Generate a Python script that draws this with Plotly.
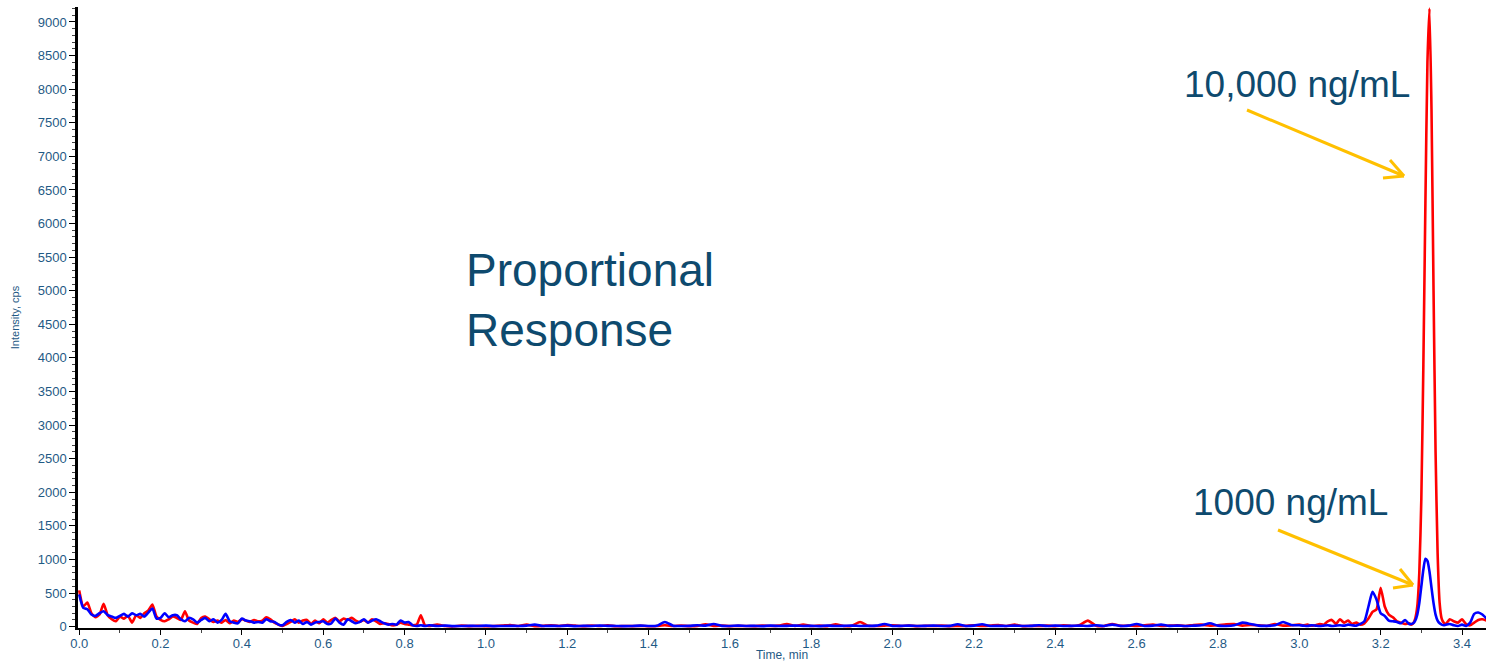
import numpy as np
import plotly.graph_objects as go

# ---- sampling times (min) for each stretch of the run ----
t_early = np.round(np.arange(0.00, 0.851, 0.01), 3)
t_mid = np.round(np.arange(0.86, 3.001, 0.02), 3)
t_pre = np.round(np.arange(3.01, 3.271, 0.01), 3)
t_peak = np.round(np.arange(3.275, 3.3601, 0.005), 3)
t_tail = np.round(np.arange(3.37, 3.461, 0.01), 3)

# ---- 10,000 ng/mL trace (cps) ----
red_early = [540, 300, 360, 200, 140, 180, 340, 170, 110, 80,
             150, 120, 160, 60, 170, 130, 200, 240, 330, 150,
             100, 80, 110, 150, 130, 100, 230, 90, 60, 40,
             130, 150, 110, 70, 90, 60, 100, 50, 90, 70,
             110, 90, 70, 100, 80, 90, 140, 110, 60, 30,
             10, 40, 70, 110, 60, 90, 100, 40, 90, 50,
             110, 60, 100, 130, 80, 120, 100, 130, 90, 70,
             100, 60, 110, 80, 40, 50, 40, 20, 30, 60,
             40, 30, 20, 30, 170, 20]
red_mid = [10, 30, 10, 5, 15, 8, 12, 5, 10, 15,
           25, 10, 30, 8, 12, 20, 10, 25, 15, 8,
           15, 10, 20, 5, 10, 8, 12, 5, 10, 20,
           10, 15, 8, 12, 35, 10, 15, 8, 12, 10,
           8, 15, 10, 15, 40, 12, 30, 10, 15, 8,
           35, 10, 15, 70, 12, 10, 15, 20, 10, 15,
           8, 12, 10, 15, 8, 10, 12, 20, 10, 15,
           25, 10, 30, 8, 12, 10, 15, 8, 20, 10,
           25, 90, 15, 10, 40, 12, 15, 10, 20, 30,
           10, 15, 20, 10, 25, 30, 15, 20, 35, 40,
           15, 25, 20, 10, 40, 15, 20, 30]
red_pre = [20, 30, 15, 20, 40, 30, 80, 100, 40, 110,
           60, 90, 40, 60, 30, 50, 120, 220, 260, 580,
           300, 180, 140, 80, 60, 40, 50]
red_peak = [30, 50, 120, 300, 800, 1900, 3900, 6300, 8400,
            9200, 7700, 5000, 2600, 1100, 350, 120, 60, 40]
red_tail = [110, 80, 60, 110, 40, 20, 60, 100, 110, 90]

# ---- 1000 ng/mL trace (cps) ----
blue_early = [480, 280, 260, 180, 160, 200, 230, 170, 150, 130,
              160, 190, 150, 200, 170, 190, 150, 210, 270, 120,
              130, 200, 140, 170, 170, 110, 80, 130, 110, 60,
              100, 130, 80, 110, 60, 100, 190, 80, 60, 50,
              120, 90, 80, 60, 70, 60, 110, 80, 70, 30,
              20, 70, 100, 60, 90, 40, 70, 30, 60, 70,
              80, 40, 50, 120, 60, 30, 110, 80, 50, 70,
              110, 60, 90, 110, 80, 50, 30, 40, 30, 90,
              60, 70, 20, 10, 20, 10]
blue_mid = [20, 10, 15, 8, 10, 12, 10, 15, 8, 10,
            12, 10, 15, 30, 10, 12, 10, 15, 8, 12,
            10, 15, 12, 10, 8, 10, 15, 10, 12, 70,
            15, 10, 12, 20, 15, 40, 12, 10, 15, 10,
            12, 8, 15, 10, 12, 15, 10, 12, 8, 15,
            10, 12, 15, 10, 12, 15, 40, 10, 12, 15,
            10, 12, 15, 10, 12, 35, 10, 15, 35, 10,
            12, 10, 15, 10, 12, 20, 10, 15, 10, 12,
            15, 10, 20, 10, 30, 12, 15, 40, 10, 15,
            30, 12, 15, 10, 15, 20, 50, 15, 10, 20,
            60, 40, 15, 12, 20, 70, 25, 20]
blue_pre = [15, 10, 20, 15, 10, 15, 20, 10, 15, 20,
            15, 30, 20, 15, 40, 80, 300, 520, 400, 200,
            160, 90, 80, 70, 50, 100, 40]
blue_peak = [40, 50, 90, 180, 350, 600, 850, 1010, 980,
             820, 580, 350, 180, 90, 50, 30, 20, 30]
blue_tail = [40, 20, 10, 30, 10, 60, 190, 210, 180, 120]

time = np.concatenate([t_early, t_mid, t_pre, t_peak, t_tail])
red = red_early + red_mid + red_pre + red_peak + red_tail
blue = blue_early + blue_mid + blue_pre + blue_peak + blue_tail
assert len(time) == len(red) == len(blue)

# ---- axis ticks ----
y_tick_vals = list(range(0, 9001, 500))
x_tick_vals = [round(0.2 * i, 1) for i in range(18)]

TEXT = "#0E4A6E"
TICK = "#1F5A85"
ARROW = "#FFC000"

W, H = 1486, 662
L, R, T, B = 78, 0, 7, 34

fig = go.Figure()
fig.add_trace(go.Scatter(x=time, y=red, mode="lines",
                         line=dict(color="#FF0000", width=2.6, shape="spline", smoothing=0.5),
                         name="10,000 ng/mL", hoverinfo="x+y"))
fig.add_trace(go.Scatter(x=time, y=blue, mode="lines",
                         line=dict(color="#0000FF", width=2.6, shape="spline", smoothing=0.6),
                         name="1000 ng/mL", hoverinfo="x+y"))
# baseline marker at the origin
fig.add_trace(go.Scatter(x=[-0.022], y=[40], mode="markers", cliponaxis=False,
                         marker=dict(symbol="triangle-right", size=10, color="#1010A0"),
                         hoverinfo="skip"))


def px(xp, yp):
    """pixel position -> paper coordinates"""
    return (xp - L) / (W - L - R), (H - B - yp) / (H - T - B)


def arrow(start, tip, arm1, arm2):
    for a, b in [(start, tip), (arm1, tip), (arm2, tip)]:
        x0, y0 = px(*a)
        x1, y1 = px(*b)
        fig.add_shape(type="line", xref="paper", yref="paper",
                      x0=x0, y0=y0, x1=x1, y1=y1,
                      line=dict(color=ARROW, width=3))


arrow((1247, 110), (1404, 176), (1390, 160), (1383, 178))
arrow((1278, 530), (1413, 585), (1400, 569), (1393, 588))

for text, (xx, yy), size in [
    ("Proportional<br>Response", (464, 300), 46),
    ("10,000 ng/mL", (1182, 84), 37),
    ("1000 ng/mL", (1191, 502), 37),
]:
    xp, yp = px(xx, yy)
    fig.add_annotation(text=text, xref="paper", yref="paper", x=xp, y=yp,
                       xanchor="left", yanchor="middle", align="left",
                       showarrow=False,
                       font=dict(family="Liberation Sans, Arial", size=size, color=TEXT))

fig.update_layout(
    width=W, height=H,
    margin=dict(l=L, r=R, t=T, b=B, autoexpand=False),
    paper_bgcolor="white", plot_bgcolor="white",
    showlegend=False,
    font=dict(family="Liberation Sans, Arial", color=TICK),
)
fig.update_xaxes(
    range=[-0.003, 3.459], showgrid=False, zeroline=False,
    showline=True, linecolor="black", linewidth=2,
    tickmode="array", tickvals=x_tick_vals, tickformat=".1f",
    ticks="outside", ticklen=5, tickwidth=1, tickcolor="black",
    tickfont=dict(size=13, color=TICK), ticklabelstandoff=-3,
    minor=dict(dtick=0.1, tick0=0, ticks="outside", ticklen=3, tickcolor="#444"),
    title=dict(text="Time, min", font=dict(size=12, color=TICK), standoff=6),
)
fig.update_yaxes(
    range=[-20, 9223], showgrid=False, zeroline=False,
    showline=True, linecolor="black", linewidth=2.5,
    tickmode="array", tickvals=y_tick_vals,
    ticks="outside", ticklen=6, tickwidth=1, tickcolor="black",
    tickfont=dict(size=13, color=TICK),
    minor=dict(dtick=100, tick0=0, ticks="outside", ticklen=3, tickcolor="#444"),
    title=dict(text="Intensity, cps", font=dict(size=11, color=TICK), standoff=16),
)

fig.write_html("out.html")
